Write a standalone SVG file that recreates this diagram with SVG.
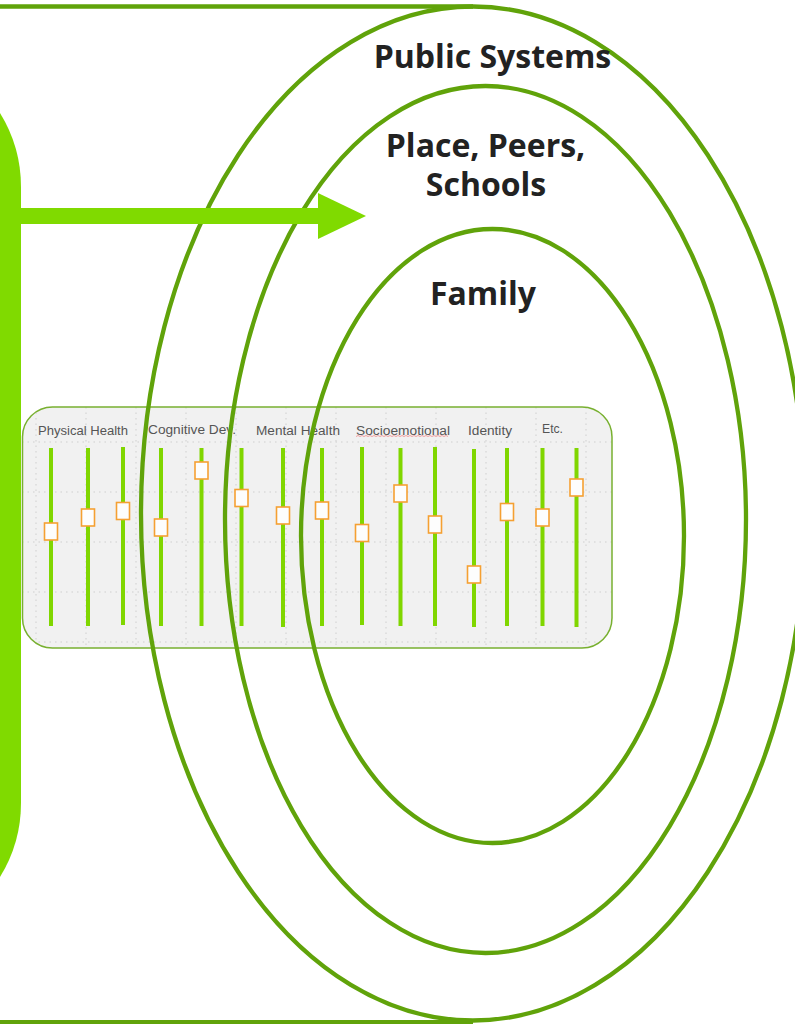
<svg xmlns="http://www.w3.org/2000/svg" width="795" height="1024" viewBox="0 0 795 1024">
<defs>
<style>
.ring{fill:none;stroke:#60a30a;stroke-width:4.3}
.edge{fill:none;stroke:#60a30a;stroke-width:4.5}
.title{font-family:"Open Sans","Noto Sans",sans-serif;font-weight:bold;font-size:32px;fill:#222;text-anchor:middle}
.lbl{font-family:"Liberation Sans","Arial",sans-serif;font-size:12.5px;fill:#555}
.track{stroke:#80d600;stroke-width:4;fill:none}
.knob{fill:#fdfdfd;stroke:#f5a032;stroke-width:1.6}
.grid{stroke:#cfcfcf;stroke-width:1;stroke-dasharray:1.5 4;fill:none}
.bright{fill:#80da00}
</style>
<clipPath id="panelClip"><rect x="22.5" y="407" width="589.5" height="241" rx="30"/></clipPath>
</defs>
<rect width="795" height="1024" fill="#ffffff"/>

<g id="left-bar">
<path class="bright" d="M0,113 A141,141 0 0 1 21,187 V803 A141,141 0 0 1 0,877 Z"/>
</g>

<g id="frame-lines">
<line class="edge" x1="0" y1="6.5" x2="473" y2="6.5"/>
<line class="edge" x1="0" y1="1022.3" x2="473" y2="1022.3"/>
</g>

<g id="slider-panel">
<rect x="22.5" y="407" width="589.5" height="241" rx="30" fill="#f1f1f1"/>
<g clip-path="url(#panelClip)">
<path class="grid" d="M22,442H612M22,492H612M22,542H612M22,592H612M22,642H612"/>
<path class="grid" d="M36,407V648M86,407V648M136,407V648M186,407V648M236,407V648M286,407V648M336,407V648M386,407V648M436,407V648M486,407V648M536,407V648M586,407V648"/>
</g>
<rect x="22.5" y="407" width="589.5" height="241" rx="30" fill="none" stroke="#78b030" stroke-width="1.5"/>
<text class="lbl" x="38" y="434.5" textLength="90" lengthAdjust="spacingAndGlyphs">Physical Health</text>
<text class="lbl" x="148" y="434" textLength="88" lengthAdjust="spacingAndGlyphs">Cognitive Dev.</text>
<text class="lbl" x="256" y="434.5" textLength="84" lengthAdjust="spacingAndGlyphs">Mental Health</text>
<text class="lbl" x="356" y="434.5" textLength="94" lengthAdjust="spacingAndGlyphs">Socioemotional</text>
<path d="M356,436.5 l2,-1 l2,1 l2,-1 l2,1 l2,-1 l2,1 l2,-1 l2,1 l2,-1 l2,1 l2,-1 l2,1 l2,-1 l2,1 l2,-1 l2,1 l2,-1 l2,1 l2,-1 l2,1 l2,-1 l2,1 l2,-1 l2,1 l2,-1 l2,1 l2,-1 l2,1 l2,-1 l2,1 l2,-1 l2,1 l2,-1 l2,1 l2,-1 l2,1 l2,-1 l2,1 l2,-1 l2,1 l2,-1 l2,1 l2,-1 l2,1 l2,-1 l2,1" fill="none" stroke="#f08a8a" stroke-width="0.8"/>
<text class="lbl" x="468" y="434.5" textLength="44" lengthAdjust="spacingAndGlyphs">Identity</text>
<text class="lbl" x="542" y="433" textLength="21" lengthAdjust="spacingAndGlyphs">Etc.</text>
<path class="track" d="M51,448V626M88,448V626M123,447V625M161,448V626M201.5,448V626M241.5,448V626M283,448V627M322,448V626M362,447V625M400.5,448V626M435,447V626M474,449V627M507,448V626M542.5,448V626M576.5,448V627"/>
<rect class="knob" x="44.5" y="523" width="13" height="17"/>
<rect class="knob" x="81.5" y="509" width="13" height="17"/>
<rect class="knob" x="116.5" y="502.5" width="13" height="17"/>
<rect class="knob" x="154.5" y="519" width="13" height="17"/>
<rect class="knob" x="195" y="462" width="13" height="17"/>
<rect class="knob" x="235" y="489.5" width="13" height="17"/>
<rect class="knob" x="276.5" y="507" width="13" height="17"/>
<rect class="knob" x="315.5" y="502" width="13" height="17"/>
<rect class="knob" x="355.5" y="524.5" width="13" height="17"/>
<rect class="knob" x="394" y="485" width="13" height="17"/>
<rect class="knob" x="428.5" y="516" width="13" height="17"/>
<rect class="knob" x="467.5" y="566" width="13" height="17"/>
<rect class="knob" x="500.5" y="503.5" width="13" height="17"/>
<rect class="knob" x="536" y="509" width="13" height="17"/>
<rect class="knob" x="570" y="479" width="13" height="17"/>
</g>

<g id="public-systems">
<ellipse class="ring" cx="473" cy="513.5" rx="332" ry="507"/>
<text class="title" x="492.5" y="68">Public Systems</text>
</g>

<g id="place-peers-schools">
<ellipse class="ring" cx="485.5" cy="519.5" rx="260.5" ry="433.5"/>
<text class="title" x="485.5" y="157">Place, Peers,</text>
<text class="title" x="486" y="196">Schools</text>
</g>

<g id="family">
<ellipse class="ring" cx="492.5" cy="536" rx="191.5" ry="307"/>
<text class="title" x="483" y="305">Family</text>
</g>

<g id="connectors">
<rect class="bright" x="19" y="208" width="300" height="16"/>
<polygon class="bright" points="318,193 366,216 318,239"/>
</g>
</svg>
